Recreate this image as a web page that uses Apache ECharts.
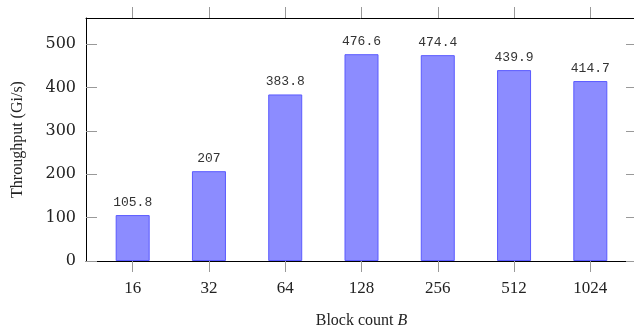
<!DOCTYPE html>
<html>
<head>
<meta charset="utf-8">
<script src="https://cdn.jsdelivr.net/npm/echarts@6/dist/echarts.min.js"></script>
<style>
  html, body { margin: 0; padding: 0; background: #fff; }
  #chart { width: 634px; height: 328px; }
</style>
</head>
<body>
<div id="chart"></div>
<script>
// Block counts on the x axis and measured throughput (Gi/s) per block count
const categories = ['16', '32', '64', '128', '256', '512', '1024'];
const throughput = [105.8, 207, 383.8, 476.6, 474.4, 439.9, 414.7];
const yTicks = [0, 100, 200, 300, 400, 500];

const positions = categories.map((_, i) => i);
const barData = throughput.map((v, i) => [i, v]);

const serif = 'Liberation Serif';
const tickColor = '#999';
const xRange = { min: -0.612, max: categories.length - 1 + 0.612 };

const chart = echarts.init(document.getElementById('chart'), null, { renderer: 'canvas' });

chart.setOption({
  animation: false,
  backgroundColor: '#fff',
  grid: { left: 86, top: 18, width: 551, height: 243, containLabel: false, outerBoundsMode: 'none' },
  xAxis: [
    {
      type: 'value',
      position: 'bottom',
      min: xRange.min,
      max: xRange.max,
      splitLine: { show: false },
      axisLine: { show: true, onZero: false, lineStyle: { color: '#000', width: 1 } },
      axisTick: { show: true, inside: false, length: 11, customValues: positions, lineStyle: { color: tickColor } },
      axisLabel: {
        customValues: positions,
        formatter: v => categories[Math.round(v)],
        margin: 19,
        fontFamily: serif,
        fontSize: 17,
        color: '#222'
      },
      name: '{t|Block count }{b|B}',
      nameLocation: 'middle',
      nameGap: 52,
      nameTextStyle: {
        rich: {
          t: { fontFamily: serif, fontSize: 16, color: '#222' },
          b: { fontFamily: serif, fontSize: 16, fontStyle: 'italic', color: '#222' }
        }
      }
    },
    {
      type: 'value',
      position: 'top',
      min: xRange.min,
      max: xRange.max,
      splitLine: { show: false },
      axisLine: { show: true, onZero: false, lineStyle: { color: '#000', width: 1 } },
      axisTick: { show: true, inside: false, length: 11, customValues: positions, lineStyle: { color: tickColor } },
      axisLabel: { show: false }
    }
  ],
  yAxis: [
    {
      type: 'value',
      position: 'left',
      min: 0,
      max: 560,
      interval: 100,
      splitLine: { show: false },
      axisLine: { show: true, onZero: false, lineStyle: { color: '#000', width: 1 } },
      axisTick: { show: true, inside: true, length: 11, customValues: yTicks, lineStyle: { color: tickColor } },
      axisLabel: {
        customValues: yTicks,
        margin: 10,
        fontFamily: 'DejaVu Serif',
        fontSize: 16,
        color: '#222'
      },
      name: 'Throughput (Gi/s)',
      nameLocation: 'middle',
      nameRotate: 90,
      nameGap: 60,
      nameTextStyle: { fontFamily: serif, fontSize: 16, color: '#222' }
    },
    {
      type: 'value',
      position: 'right',
      min: 0,
      max: 560,
      interval: 100,
      splitLine: { show: false },
      axisLine: { show: true, onZero: false, lineStyle: { color: '#000', width: 1 } },
      axisTick: { show: true, inside: true, length: 11, customValues: yTicks, lineStyle: { color: tickColor } },
      axisLabel: { show: false }
    }
  ],
  series: [
    {
      type: 'bar',
      xAxisIndex: 0,
      yAxisIndex: 0,
      data: barData,
      barWidth: 34,
      itemStyle: { color: 'rgb(140,140,255)', borderColor: 'rgb(90,90,255)', borderWidth: 1 },
      label: {
        show: true,
        position: 'top',
        distance: 6,
        formatter: p => String(p.value[1]),
        fontFamily: 'Liberation Mono',
        fontSize: 13,
        color: '#333'
      }
    }
  ]
});
</script>
</body>
</html>
